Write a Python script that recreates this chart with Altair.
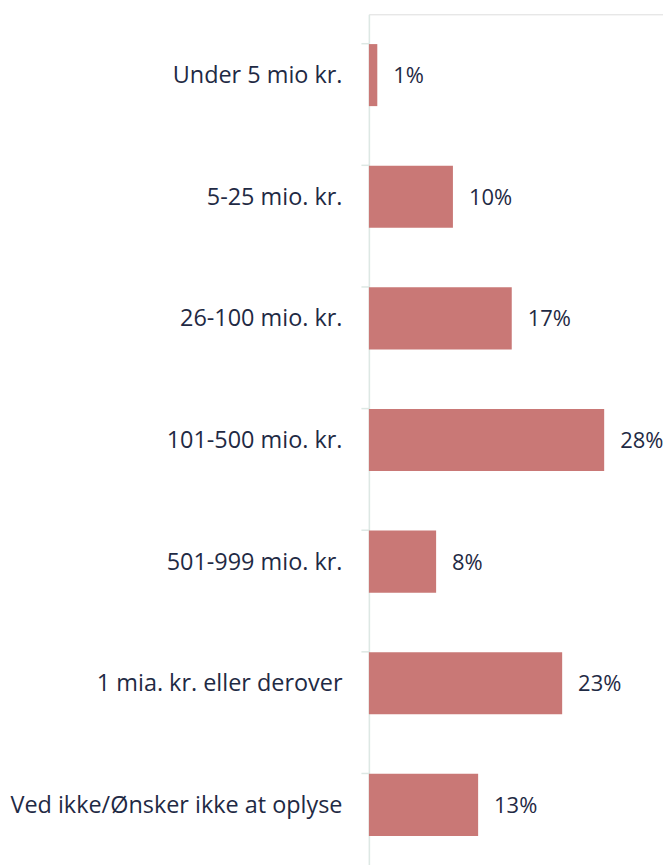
import altair as alt
import pandas as pd

categories = ["Under 5 mio kr.", "5-25 mio. kr.", "26-100 mio. kr.", "101-500 mio. kr.",
              "501-999 mio. kr.", "1 mia. kr. eller derover", "Ved ikke/Ønsker ikke at oplyse"]
values = [1, 10, 17, 28, 8, 23, 13]
labels = ["1%", "10%", "17%", "28%", "8%", "23%", "13%"]

df = pd.DataFrame({"cat": categories, "val": values, "lab": labels})

FONT = "Open Sans"
TXT = "#1F2A44"

y = alt.Y("cat:N", sort=categories,
          scale=alt.Scale(paddingInner=0.49, paddingOuter=0.245),
          axis=alt.Axis(title=None, bandPosition=0, domainColor="#DDE8E4", domainWidth=1.5,
                        tickColor="#DDE8E4", tickWidth=1.5, tickSize=8, labelPadding=19,
                        labelFont=FONT, labelFontSize=23.5, labelColor=TXT, labelLimit=400,
                        labelOffset=1))
x = alt.X("val:Q", scale=alt.Scale(domain=[0, 35]), axis=None)

bars = alt.Chart(df).mark_bar(color="#C97876").encode(y=y, x=x)
text = alt.Chart(df).mark_text(align="left", baseline="middle", dx=16, dy=1, font=FONT,
                               fontSize=22, color=TXT).encode(y=alt.Y("cat:N", sort=categories), x=x, text="lab:N")

chart = (bars + text).properties(
    width=295, height=854,
    autosize=alt.AutoSizeParams(type="none"),
    padding={"left": 362, "top": 5, "right": 0, "bottom": 0},
).configure_view(stroke=None).configure(background="white")

chart.save("out.html", embed_options={"renderer": "svg", "actions": False})
